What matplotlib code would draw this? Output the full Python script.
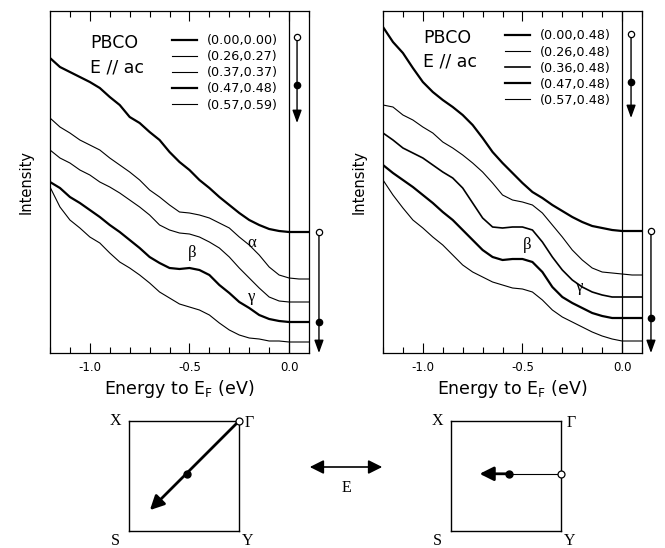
import numpy as np
import matplotlib.pyplot as plt
from matplotlib.patches import FancyArrowPatch

# photoemission spectra of PBCO, intensity in arbitrary units
energy = [-1.20, -1.15, -1.10, -1.05, -1.00, -0.95, -0.90, -0.85, -0.80,
          -0.75, -0.70, -0.65, -0.60, -0.55, -0.50, -0.45, -0.40, -0.35,
          -0.30, -0.25, -0.20, -0.15, -0.10, -0.05, 0.00, 0.05, 0.10]

# left panel, cut along Gamma-S
left_1 = [295, 286, 281, 276, 271, 265, 256, 248, 236, 230, 221, 213, 201, 191,
          183, 173, 165, 156, 148, 140, 133, 128, 124, 122, 121, 121, 121]
left_2 = [235, 226, 220, 213, 208, 203, 195, 188, 181, 173, 163, 156, 148, 141,
          140, 138, 135, 130, 125, 116, 108, 98, 86, 78, 75, 74, 74]
left_3 = [203, 195, 190, 183, 178, 171, 166, 160, 153, 146, 138, 128, 123, 120,
          119, 116, 111, 105, 96, 85, 75, 65, 56, 52, 51, 51, 51]
left_4 = [171, 165, 156, 150, 143, 136, 128, 121, 113, 105, 96, 90, 85, 84,
          85, 83, 78, 68, 60, 51, 45, 38, 34, 32, 31, 31, 31]
left_5 = [166, 146, 133, 125, 116, 110, 100, 91, 85, 78, 70, 61, 55, 49,
          46, 43, 38, 30, 23, 18, 15, 14, 12, 12, 11, 11, 11]

# right panel, cut at ky = 0.48
right_1 = [326, 311, 300, 285, 271, 261, 253, 246, 238, 228, 215, 201, 190, 180,
           170, 161, 155, 148, 142, 136, 131, 127, 125, 123, 122, 122, 122]
right_2 = [248, 246, 238, 233, 226, 220, 211, 205, 198, 190, 181, 170, 158, 153,
           151, 148, 140, 128, 116, 103, 93, 85, 81, 80, 79, 78, 78]
right_3 = [220, 213, 205, 200, 195, 188, 181, 175, 165, 150, 135, 126, 125, 126,
           126, 123, 111, 96, 83, 73, 66, 61, 58, 56, 56, 56, 56]
right_4 = [188, 180, 173, 166, 158, 150, 141, 133, 123, 113, 103, 96, 93, 94,
           94, 91, 81, 66, 56, 50, 45, 40, 37, 35, 35, 35, 35]
right_5 = [173, 158, 145, 133, 125, 116, 108, 98, 88, 81, 76, 71, 68, 65,
           64, 61, 53, 43, 36, 31, 26, 21, 17, 14, 12, 12, 12]

left_labels = ['(0.00,0.00)', '(0.26,0.27)', '(0.37,0.37)', '(0.47,0.48)', '(0.57,0.59)']
right_labels = ['(0.00,0.48)', '(0.26,0.48)', '(0.36,0.48)', '(0.47,0.48)', '(0.57,0.48)']
tick_pos = [-1.0, -0.5, 0.0]
tick_labels = ['-1.0', '-0.5', '0.0']

# k points (kx, ky) of the cuts in the zone
left_cut = {'start': (0.0, 0.0), 'dot': (0.47, 0.48), 'tip': (0.81, 0.81)}
right_cut = {'start': (0.0, 0.48), 'dot': (0.47, 0.48), 'tip': (0.74, 0.48)}

plt.rcParams['font.family'] = 'DejaVu Sans'
fig = plt.figure(figsize=(6.65, 5.48), dpi=100)
W, H = 665.0, 548.0


def cut_arrow(ax, x, y_open, y_dot, y_tip):
    ax.annotate('', xy=(x, y_tip), xytext=(x, y_open),
                arrowprops=dict(arrowstyle='-|>,head_length=0.55,head_width=0.2',
                                color='k', lw=1.0, shrinkA=0, shrinkB=0,
                                mutation_scale=14),
                annotation_clip=False)
    ax.plot([x], [y_dot], 'o', color='k', ms=4.5, clip_on=False, zorder=5)
    ax.plot([x], [y_open], 'o', mfc='white', mec='k', mew=0.9, ms=4.5,
            clip_on=False, zorder=5)


def draw_panel(left_px, spectra, labels, widths, greek, leg_top, txt_y, upper):
    ax = fig.add_axes([left_px / W, 1 - 353 / H, 259 / W, 342 / H])
    for y, lw, lab in zip(spectra, widths, labels):
        ax.plot(energy, y, color='k', lw=lw, label=lab)
    ax.axvline(0, color='k', lw=0.9)
    ax.set_xlim(-1.2, 0.1)
    ax.set_ylim(0, 342)
    ax.set_yticks([])
    ax.set_xticks(tick_pos)
    ax.set_xticklabels(tick_labels)
    ax.set_xticks(np.arange(-1.2, 0.11, 0.1), minor=True)
    ax.tick_params(axis='x', which='both', direction='in', top=True, width=0.8)
    ax.tick_params(axis='x', which='major', length=7, labelsize=8.5, pad=6)
    ax.tick_params(axis='x', which='minor', length=4)
    for s in ax.spines.values():
        s.set_linewidth(0.9)
    ax.set_xlabel('Energy to E$_\\mathregular{F}$ (eV)', fontsize=12.5, labelpad=3)
    ax.set_ylabel('Intensity', fontsize=10.5, labelpad=12)

    ax.text(0.154, txt_y, 'PBCO', transform=ax.transAxes, fontsize=12.5,
            va='center')
    ax.text(0.154, txt_y - 0.07, 'E // ac', transform=ax.transAxes,
            fontsize=12.5, va='center')
    ax.legend(loc='upper left', bbox_to_anchor=(0.471, leg_top), frameon=False,
              fontsize=9.2, handlelength=1.95, handletextpad=0.78,
              labelspacing=0.24, borderpad=0, borderaxespad=0)

    for sym, x, y in greek:
        ax.text(x, y, sym, fontsize=12, family='Liberation Serif',
                ha='center', va='center')

    cut_arrow(ax, upper[0], upper[1], upper[2], upper[3])
    cut_arrow(ax, upper[4], spectra[0][-1], spectra[3][-1], 0)
    return ax


draw_panel(50, [left_1, left_2, left_3, left_4, left_5], left_labels,
           [1.6, 0.8, 0.8, 1.6, 0.8],
           [('\u03b2', -0.485, 100), ('\u03b1', -0.185, 110), ('\u03b3', -0.19, 56)],
           0.932, 0.906, (0.04, 316, 268, 230, 0.15))
draw_panel(383, [right_1, right_2, right_3, right_4, right_5], right_labels,
           [1.6, 0.8, 1.2, 1.6, 0.8],
           [('\u03b2', -0.475, 108), ('\u03b3', -0.215, 66)],
           0.946, 0.922, (0.045, 319, 271, 235, 0.145))


def draw_zone(left_px, cut, thin_first):
    ax = fig.add_axes([left_px / W, 1 - 531 / H, 110 / W, 110 / H])
    ax.set_xlim(1, 0)
    ax.set_ylim(1, 0)
    ax.set_xticks([])
    ax.set_yticks([])
    for s in ax.spines.values():
        s.set_linewidth(1.0)
    for name, kx, ky in [('X', 1.12, 0.0), ('\u0393', -0.09, 0.02),
                         ('S', 1.12, 1.09), ('Y', -0.08, 1.09)]:
        ax.text(kx, ky, name, fontsize=11.5, family='Liberation Serif',
                ha='center', va='center', clip_on=False)
    x0, y0 = cut['start']
    xd, yd = cut['dot']
    xt, yt = cut['tip']
    if thin_first:
        ax.plot([x0, xd], [y0, yd], color='k', lw=0.8)
        tail = (xd, yd)
    else:
        tail = (x0, y0)
    ax.annotate('', xy=(xt, yt), xytext=tail,
                arrowprops=dict(arrowstyle='-|>,head_length=0.6,head_width=0.3',
                                color='k', lw=2.0, shrinkA=0, shrinkB=0,
                                mutation_scale=14),
                annotation_clip=False)
    ax.plot([xd], [yd], 'o', color='k', ms=5, zorder=5)
    ax.plot([x0], [y0], 'o', mfc='white', mec='k', mew=0.9, ms=5,
            clip_on=False, zorder=6)


draw_zone(129, left_cut, False)
draw_zone(451, right_cut, True)

# polarisation of the light
fig.add_artist(FancyArrowPatch((307 / W, 1 - 467 / H), (385 / W, 1 - 467 / H),
                               transform=fig.transFigure,
                               arrowstyle='<|-|>,head_length=0.7,head_width=0.35',
                               mutation_scale=12, lw=1.2, color='k'))
fig.text(346 / W, 1 - 488 / H, 'E', fontsize=11.5, family='Liberation Serif',
         ha='center', va='center')

fig.savefig('out.png', dpi=100)
